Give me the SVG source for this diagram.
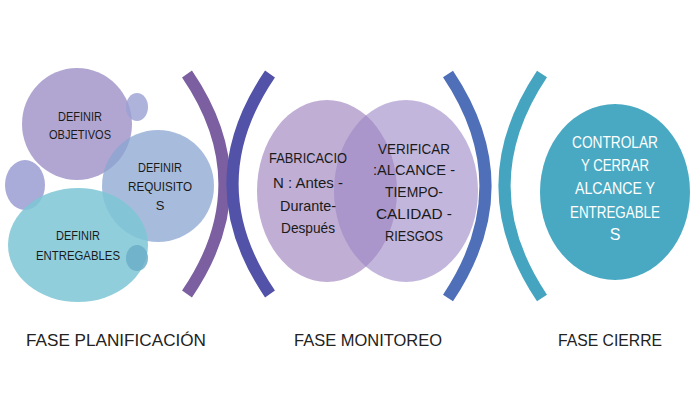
<svg xmlns="http://www.w3.org/2000/svg" width="700" height="400" viewBox="0 0 700 400">
<style>
text{font-family:"Liberation Sans",Arial,sans-serif;text-anchor:middle}
.t{font-size:13px;fill:#1a1a1a}
.b{font-size:15px;fill:#1a1a1a}
.w{font-size:16px;fill:#fff}
.l{font-size:17px;fill:#222}
.br{fill:none;stroke-width:12}
</style>
<rect width="700" height="400" fill="#fff"/>
<g id="obj"><ellipse cx="77" cy="124" rx="55" ry="56" fill="#a99ccc" opacity="0.9"/><text class="t" x="80" y="121" textLength="44" lengthAdjust="spacingAndGlyphs">DEFINIR</text><text class="t" x="80" y="139" textLength="62" lengthAdjust="spacingAndGlyphs">OBJETIVOS</text></g>
<g id="s1"><ellipse cx="137" cy="107" rx="11" ry="14" fill="#9aa0d2" opacity="0.8"/></g>
<g id="s2"><ellipse cx="25" cy="185" rx="20" ry="25" fill="#a0a2d4" opacity="0.9"/></g>
<g id="req"><ellipse cx="158" cy="186" rx="56" ry="56" fill="#8aa6d0" opacity="0.75"/><text class="t" x="160" y="172" textLength="44" lengthAdjust="spacingAndGlyphs">DEFINIR</text><text class="t" x="160" y="191" textLength="64" lengthAdjust="spacingAndGlyphs">REQUISITO</text><text class="t" x="160" y="210">S</text></g>
<g id="ent"><ellipse cx="78" cy="245" rx="70" ry="57" fill="#7ec6d6" opacity="0.85"/><text class="t" x="78" y="240" textLength="44" lengthAdjust="spacingAndGlyphs">DEFINIR</text><text class="t" x="78" y="260" textLength="84" lengthAdjust="spacingAndGlyphs">ENTREGABLES</text></g>
<g id="s3"><ellipse cx="137" cy="258" rx="11" ry="13" fill="#6aaec8" opacity="0.85"/></g>
<g id="fab"><ellipse cx="327" cy="191" rx="70" ry="91" fill="#c0aed4"/></g>
<g id="ver"><ellipse cx="406" cy="191" rx="72" ry="91" fill="#9b85c4" opacity="0.6"/></g>
<g id="labels-mid">
<text class="b" x="308" y="163" textLength="78" lengthAdjust="spacingAndGlyphs">FABRICACIO</text><text class="b" x="308" y="188" textLength="70" lengthAdjust="spacingAndGlyphs">N : Antes -</text><text class="b" x="308" y="211" textLength="56" lengthAdjust="spacingAndGlyphs">Durante-</text><text class="b" x="308" y="233" textLength="54" lengthAdjust="spacingAndGlyphs">Después</text>
<text class="b" x="414" y="154" textLength="72" lengthAdjust="spacingAndGlyphs">VERIFICAR</text><text class="b" x="414" y="175" textLength="82" lengthAdjust="spacingAndGlyphs">:ALCANCE -</text><text class="b" x="414" y="197" textLength="58" lengthAdjust="spacingAndGlyphs">TIEMPO-</text><text class="b" x="414" y="219" textLength="76" lengthAdjust="spacingAndGlyphs">CALIDAD  -</text><text class="b" x="414" y="241" textLength="58" lengthAdjust="spacingAndGlyphs">RIESGOS</text>
</g>
<g id="cierre"><ellipse cx="615" cy="192" rx="75" ry="88" fill="#49a9c3"/><text class="w" x="615" y="148" textLength="86" lengthAdjust="spacingAndGlyphs">CONTROLAR</text><text class="w" x="615" y="171" textLength="68" lengthAdjust="spacingAndGlyphs">Y CERRAR</text><text class="w" x="615" y="194" textLength="80" lengthAdjust="spacingAndGlyphs">ALCANCE  Y</text><text class="w" x="615" y="218" textLength="90" lengthAdjust="spacingAndGlyphs">ENTREGABLE</text><text class="w" x="615" y="240">S</text></g>
<g id="brackets">
<path class="br" d="M187 74 Q262 184 187 294" stroke="#7b5fa0"/>
<path class="br" d="M270 74 Q195 184 270 294" stroke="#5252a8"/>
<path class="br" d="M448 74 Q523 186 448 298" stroke="#4f6fb8"/>
<path class="br" d="M542 74 Q467 186 542 298" stroke="#45a5c0"/>
</g>
<text class="l" x="116" y="346" textLength="180" lengthAdjust="spacingAndGlyphs">FASE PLANIFICACIÓN</text>
<text class="l" x="368" y="346" textLength="148" lengthAdjust="spacingAndGlyphs">FASE MONITOREO</text>
<text class="l" x="610" y="346" textLength="104" lengthAdjust="spacingAndGlyphs">FASE CIERRE</text>
</svg>
